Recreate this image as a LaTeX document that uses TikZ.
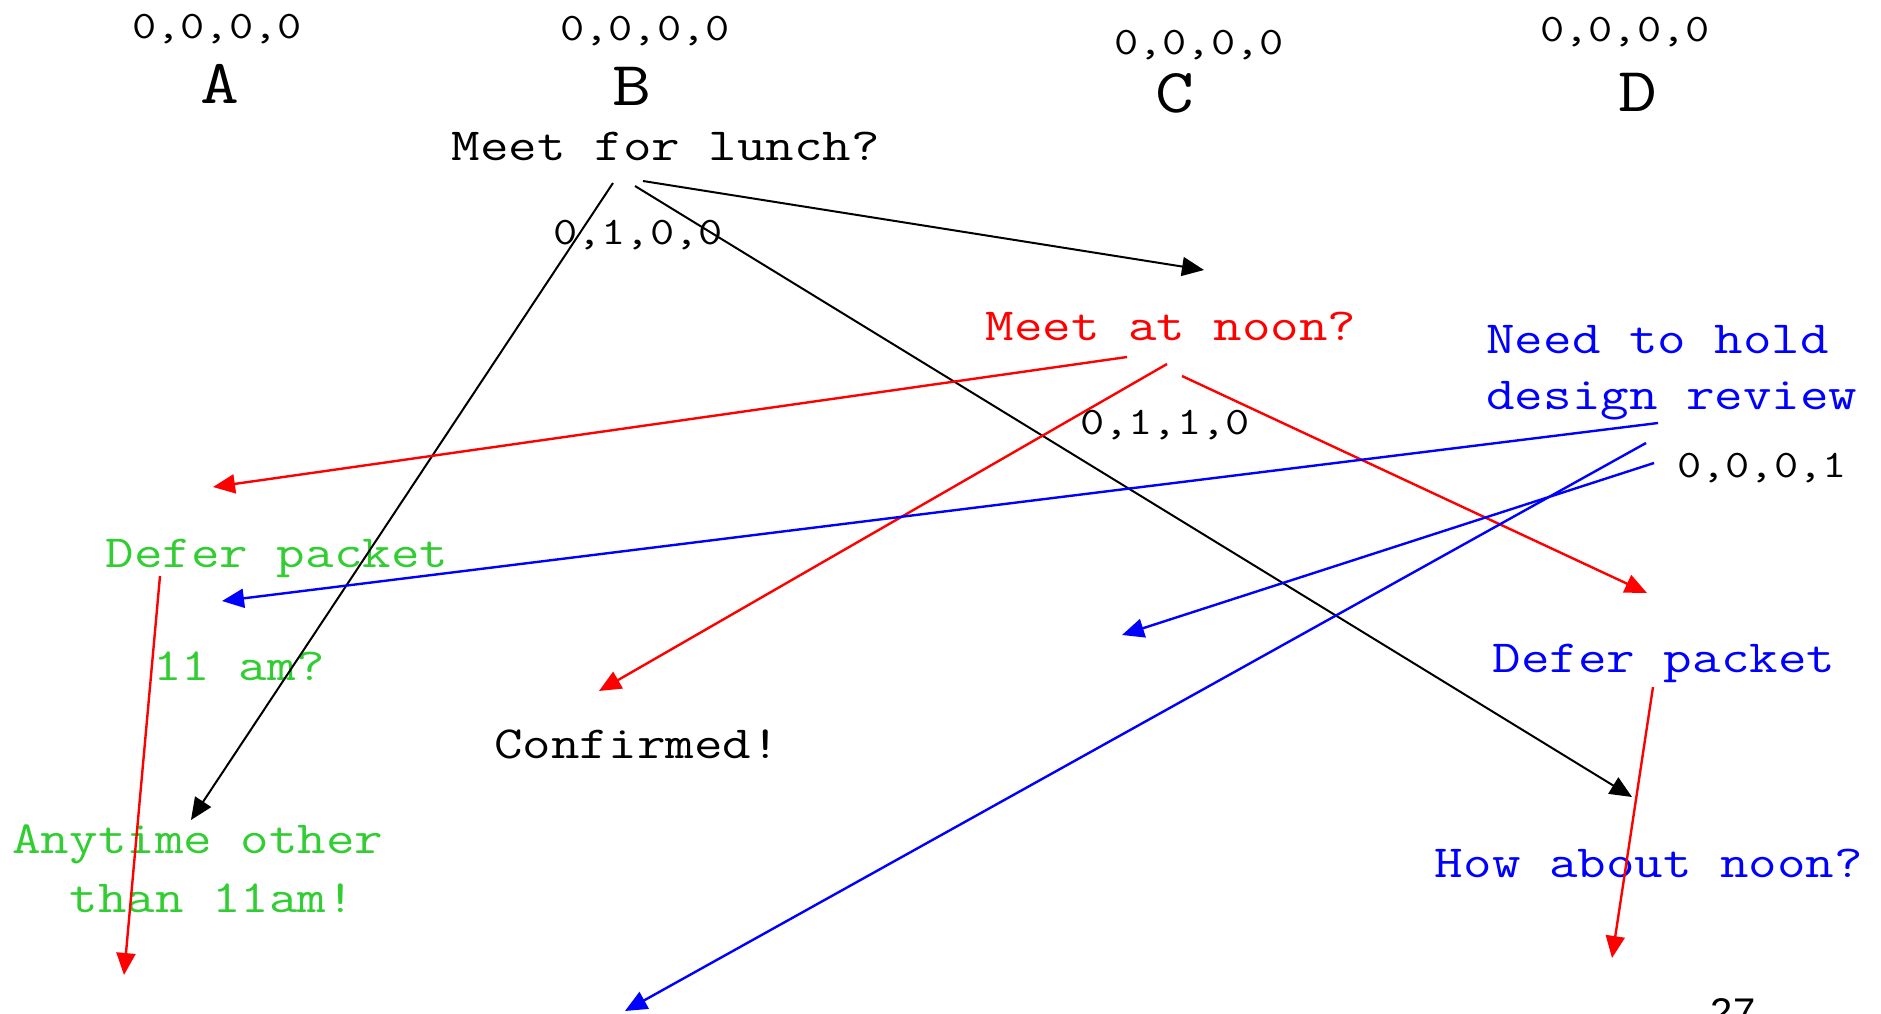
\documentclass[tikz,border=0pt]{standalone}
\usepackage{fontspec}
\setmainfont{Liberation Mono}
\newfontfamily\cour[FakeStretch=1.205]{Latin Modern Mono}
\newfontfamily\pagesans{Liberation Sans}
\usetikzlibrary{arrows.meta}
\definecolor{mygreen}{RGB}{50,205,50}
\begin{document}
\begin{tikzpicture}[x=0.5pt,y=-0.5pt,
  txt/.style={inner sep=0pt, anchor=base, font=\cour\fontsize{23}{28}\selectfont},
  num/.style={inner sep=0pt, anchor=base, font=\cour\fontsize{19.5}{24}\selectfont},
  big/.style={inner sep=0pt, anchor=base, font=\cour\fontsize{31.3}{38}\selectfont},
  arr/.style={-{Triangle[length=11pt,width=9.5pt]}, line width=1pt},
  redarr/.style={arr, draw=red, line width=1.2pt},
  bluearr/.style={arr, draw=blue, line width=1.2pt},
  blackarr/.style={arr, draw=black}]
\useasboundingbox (0,0) rectangle (1881,1013);
% headers
\node[num] (nA) at (217,38) {0,0,0,0};
\node[big] (A) at (220,103) {A};
\node[num] (nB) at (645,40) {0,0,0,0};
\node[big] (B) at (632,105) {B};
\node[num] (nC) at (1199,54) {0,0,0,0};
\node[big] (C) at (1175,112) {C};
\node[num] (nD) at (1625,41) {0,0,0,0};
\node[big] (D) at (1638,111) {D};
% texts
\node[txt] (lunch) at (666,160) {Meet for lunch?};
\node[num] (n0100) at (638,244) {0,1,0,0};
\node[txt, text=red] (noon) at (1171,340) {Meet at noon?};
\node[num] (n0110) at (1165,434) {0,1,1,0};
\node[txt, text=blue, align=left, anchor=base west] (review) at (1486,409) {Need to hold\\design review};
\node[num] (n0001) at (1762,477) {0,0,0,1};
\node[txt, text=mygreen] (deferg) at (277,567) {Defer packet};
\node[txt, text=mygreen] (eleven) at (239,680) {11 am?};
\node[txt] (confirmed) at (637,758) {Confirmed!};
\node[txt, text=mygreen, align=center] (anytime) at (198,912) {Anytime other\\[1.5pt]\hphantom{x}than 11am!};
\node[txt, text=blue] (deferb) at (1664,672) {Defer packet};
\node[txt, text=blue] (howabout) at (1649,877) {How about noon?};
\node[inner sep=0pt, anchor=base, font=\pagesans\fontsize{20}{24}\selectfont] (page) at (1733,1026) {27};
% arrow end points
\coordinate (b1s) at (613,183); \coordinate (b1e) at (191,820);
\coordinate (b2s) at (635,186); \coordinate (b2e) at (1632,797);
\coordinate (b3s) at (643,181); \coordinate (b3e) at (1204,270);
\coordinate (r4s) at (1127,357); \coordinate (r4e) at (213,487);
\coordinate (r5s) at (1167,364); \coordinate (r5e) at (599,691);
\coordinate (r6s) at (1182,376); \coordinate (r6e) at (1647,593);
\coordinate (r7s) at (160,576); \coordinate (r7e) at (124,975);
\coordinate (r8s) at (1653,687); \coordinate (r8e) at (1612,958);
\coordinate (u9s) at (1658,423); \coordinate (u9e) at (222,601);
\coordinate (u10s) at (1646,443); \coordinate (u10e) at (625,1011);
\coordinate (u11s) at (1654,463); \coordinate (u11e) at (1122,635);
% arrows
\draw[blackarr] (b1s) -- (b1e);
\draw[blackarr] (b2s) -- (b2e);
\draw[blackarr] (b3s) -- (b3e);
\draw[redarr] (r4s) -- (r4e);
\draw[redarr] (r5s) -- (r5e);
\draw[redarr] (r6s) -- (r6e);
\draw[redarr] (r7s) -- (r7e);
\draw[redarr] (r8s) -- (r8e);
\draw[bluearr] (u9s) -- (u9e);
\draw[bluearr] (u10s) -- (u10e);
\draw[bluearr] (u11s) -- (u11e);
\end{tikzpicture}
\end{document}
